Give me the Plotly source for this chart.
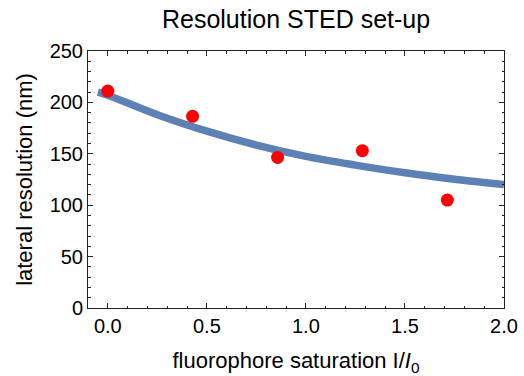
import plotly.graph_objects as go

# measured data points
meas_x = [0.0, 0.428, 0.857, 1.285, 1.714]
meas_y = [211, 186.5, 146.5, 153, 105]

# fitted curve
fit_x = [-0.05, 0.0, 0.25, 0.5, 0.75, 1.0, 1.25, 1.5, 1.75, 2.0]
fit_y = [210, 207, 188, 172, 158.5, 147.5, 139, 131.5, 125.3, 120]

x_ticks = [0.0, 0.5, 1.0, 1.5, 2.0]
x_tick_text = ["0.0", "0.5", "1.0", "1.5", "2.0"]
y_ticks = [0, 50, 100, 150, 200, 250]

FONT = "Liberation Sans, Arial, sans-serif"

fig = go.Figure()
fig.add_trace(go.Scatter(x=fit_x, y=fit_y, mode="lines",
                         line=dict(color="#5E81B5", width=7.5, shape="spline"),
                         showlegend=False, hoverinfo="skip"))
fig.add_trace(go.Scatter(x=meas_x, y=meas_y, mode="markers",
                         marker=dict(color="#FF0000", size=13),
                         showlegend=False))

axis_common = dict(showline=True, linecolor="#222", linewidth=1, mirror="allticks",
                   ticks="inside", ticklen=5, tickcolor="#222", showgrid=False,
                   zeroline=False, automargin=False,
                   tickfont=dict(family=FONT, size=20, color="black"))

fig.update_layout(
    width=524, height=376,
    margin=dict(l=88, r=20, t=51, b=68),
    paper_bgcolor="white", plot_bgcolor="white",
    title=dict(text="Resolution STED set-up", x=0.565, xanchor="center",
               y=0.95, yanchor="middle",
               font=dict(family=FONT, size=25, color="black")),
    xaxis=dict(range=[-0.1, 2.0], tickvals=x_ticks, ticktext=x_tick_text,
               minor=dict(dtick=0.1, tick0=0, ticks="inside", ticklen=2.5, tickcolor="#222"),
               title=dict(text="fluorophore saturation I/<i>I</i><sub>0</sub>",
                          font=dict(family=FONT, size=22, color="black"), standoff=19),
               **axis_common),
    yaxis=dict(range=[0, 250], tickvals=y_ticks,
               minor=dict(dtick=10, tick0=0, ticks="inside", ticklen=2.5, tickcolor="#222"),
               title=dict(text="lateral resolution (nm)",
                          font=dict(family=FONT, size=22, color="black"), standoff=10),
               **axis_common),
)

fig.write_html("out.html")
